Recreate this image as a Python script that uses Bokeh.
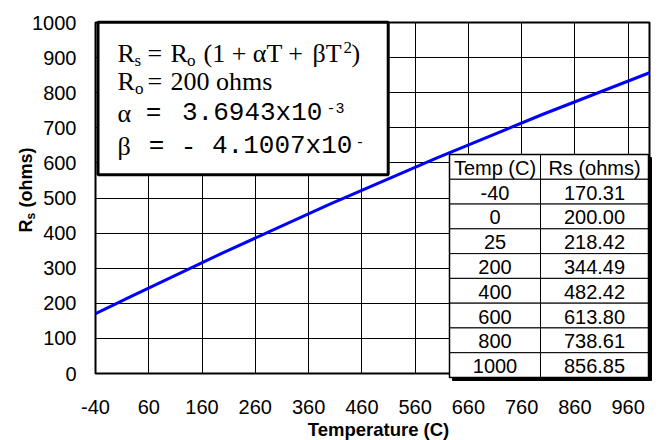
import math
from bokeh.plotting import figure
from bokeh.models import Range1d, FixedTicker
from bokeh.core.properties import value
from bokeh.embed import file_html
from bokeh.resources import INLINE

# ---------------- data ----------------
temps = [-40, 0, 25, 200, 400, 600, 800, 1000]
rs_ohms = [170.31, 200.00, 218.42, 344.49, 482.42, 613.80, 738.61, 856.85]
x_ticks = [-40, 60, 160, 260, 360, 460, 560, 660, 760, 860, 960]
y_ticks = [0, 100, 200, 300, 400, 500, 600, 700, 800, 900, 1000]
table_header = ["Temp (C)", "Rs (ohms)"]
x_title = "Temperature (C)"
x_min, x_max = -40, 1000
y_min, y_max = 0, 1000

# ---------------- layout ----------------
W, H = 659, 440
L, R, T, B = 95, 649, 22, 373

p = figure(width=W, height=H, x_range=Range1d(x_min, x_max), y_range=Range1d(y_min, y_max),
           output_backend="svg", toolbar_location=None,
           min_border_left=L, min_border_right=W - R, min_border_top=T, min_border_bottom=H - B)
p.background_fill_color = "white"
p.border_fill_color = "white"
p.outline_line_color = "black"
p.outline_line_width = 2

p.xaxis.ticker = FixedTicker(ticks=x_ticks)
p.yaxis.ticker = FixedTicker(ticks=y_ticks)
p.xaxis.major_label_overrides = {t: str(t) for t in x_ticks}
for ax in (p.xaxis[0], p.yaxis[0]):
    ax.major_tick_in = 0
    ax.major_tick_out = 0
    ax.minor_tick_in = 0
    ax.minor_tick_out = 0
    ax.axis_line_color = None
    ax.major_label_text_font = "Liberation Sans"
    ax.major_label_text_font_size = "20px"
    ax.major_label_text_color = "black"
p.xaxis.major_label_standoff = 26
p.yaxis.major_label_standoff = 19
p.grid.grid_line_color = "black"
p.grid.grid_line_width = 1
p.grid.grid_line_alpha = 1

MID = 0.3465  # distance from alphabetic baseline to text middle, in em


def dx(px):
    return x_min + (px - L) * (x_max - x_min) / (R - L)


def dy(py):
    return y_min + (B - py) * (y_max - y_min) / (B - T)


def add_text(s, px, py, font, size, align="left", rotated=False, style="normal"):
    """px, py: start of the alphabetic baseline (screen pixels)."""
    fs = float(size.replace("px", ""))
    if rotated:
        ax_, ay_, ang = px - MID * fs, py, math.pi / 2
    else:
        ax_, ay_, ang = px, py - MID * fs, 0.0
    p.text(x=[dx(ax_)], y=[dy(ay_)], text=[s], text_font=value(font), text_font_size=size,
           text_align=align, text_baseline="middle", angle=ang, text_font_style=style,
           text_color="black", level="overlay")


# ---------------- series ----------------
p.line(temps, rs_ohms, line_color="#0000FF", line_width=3)

# ---------------- equation box ----------------
p.quad(left=[dx(97.5)], right=[dx(387.7)], top=[dy(21.7)], bottom=[dy(174.3)],
       fill_color="white", line_color="black", line_width=3, level="overlay")
SERIF, MONO, SANS = "Liberation Serif", "Liberation Mono", "Liberation Sans"
add_text("R", 117, 62, SERIF, "26px")
add_text("s", 134, 66, SERIF, "17px")
add_text("=", 147, 62, SERIF, "26px")
add_text("R", 170, 62, SERIF, "26px")
add_text("o", 186.5, 66, SERIF, "17px")
add_text("(1 + \u03b1T +", 203, 62, SERIF, "26px")
add_text("\u03b2T", 312, 62, SERIF, "26px")
add_text("2", 343, 53, SERIF, "17px")
add_text(")", 351, 62, SERIF, "26px")

add_text("R", 117, 90, SERIF, "26px")
add_text("o", 134.5, 94, SERIF, "17px")
add_text("=", 147, 90, SERIF, "26px")
add_text("200 ohms", 170, 90, SERIF, "26px")

add_text("\u03b1", 117, 121.7, SERIF, "26px")
add_text("=", 153, 121.7, MONO, "26px", align="center")
add_text("3.6943x10", 181.5, 121.7, MONO, "26px")
add_text("-3", 326, 113, MONO, "15px")

add_text("\u03b2", 117, 155, SERIF, "26px")
add_text("=", 156, 155, MONO, "26px", align="center")
add_text("-", 188, 155, MONO, "26px", align="center")
add_text("4.1007x10", 211.5, 155, MONO, "26px")
add_text("-", 355, 147, MONO, "15px")

# ---------------- table ----------------
tl, tm, tr, tt, tb = 449, 540, 648, 154, 377
nrows = len(temps) + 1
rh = (tb - tt) / nrows
p.quad(left=[dx(tl + 3)], right=[dx(tr + 3)], top=[dy(tt + 3)], bottom=[dy(tb + 3)],
       fill_color="black", line_color="black", line_width=1, level="overlay")
cell_l, cell_r, cell_t, cell_b = [], [], [], []
txt_x, txt_y, txt = [], [], []
rows = [tuple(table_header)] + [(str(t), f"{v:.2f}") for t, v in zip(temps, rs_ohms)]
for i, (c1, c2) in enumerate(rows):
    top = tt + i * rh
    bot = tt + (i + 1) * rh
    for (cl, cr, s) in ((tl, tm, c1), (tm, tr, c2)):
        cell_l.append(dx(cl)); cell_r.append(dx(cr))
        cell_t.append(dy(top)); cell_b.append(dy(bot))
        txt_x.append(dx((cl + cr) / 2)); txt_y.append(dy((top + bot) / 2 + 1)); txt.append(s)
p.quad(left=cell_l, right=cell_r, top=cell_t, bottom=cell_b, fill_color="white",
       line_color="black", line_width=1, level="overlay")
p.quad(left=[dx(tl)], right=[dx(tr)], top=[dy(tt)], bottom=[dy(tb)], fill_color=None,
       line_color="black", line_width=1.5, level="overlay")
p.text(x=txt_x, y=txt_y, text=txt, text_font=value(SANS), text_font_size="20px",
       text_align="center", text_baseline="middle", text_color="black", level="overlay")

# ---------------- axis titles ----------------
add_text(x_title, 378, 435, SANS, "18.5px", align="center", style="bold")
add_text("R", 32, 232, SANS, "18px", rotated=True, style="bold")
add_text("s", 35, 219, SANS, "12px", rotated=True, style="bold")
add_text("(ohms)", 32, 207, SANS, "18px", rotated=True, style="bold")

open("out.html", "w").write(file_html(p, INLINE))
